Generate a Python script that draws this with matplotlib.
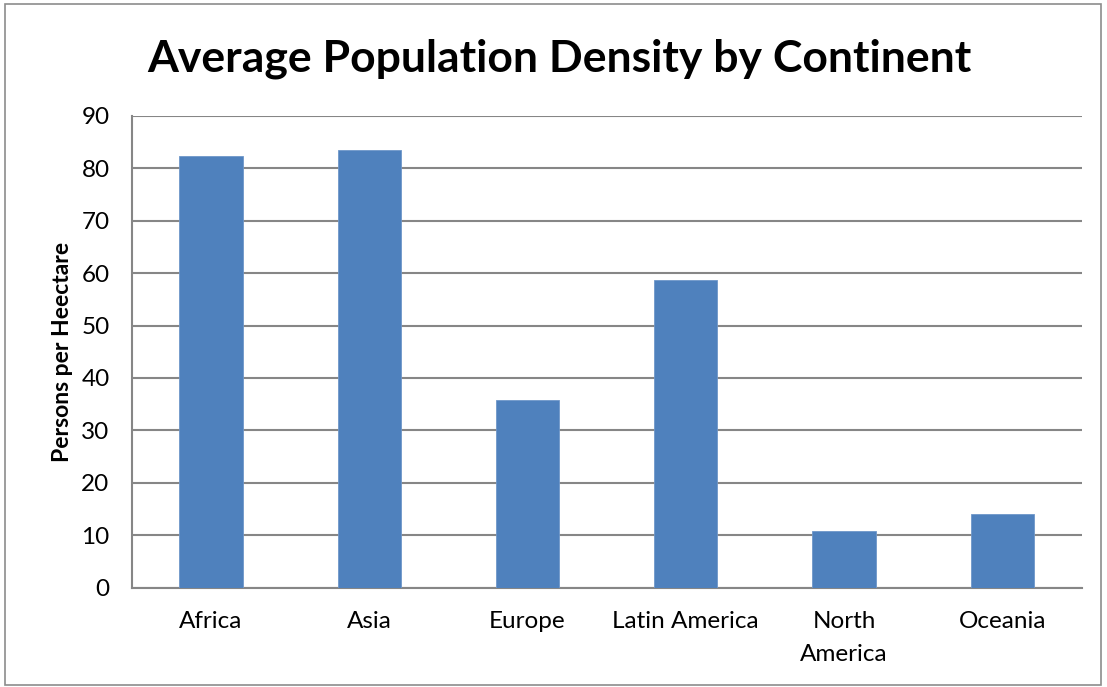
import matplotlib.pyplot as plt
from matplotlib.patches import Rectangle

continents = ["Africa", "Asia", "Europe", "Latin America", "North\nAmerica", "Oceania"]
density = [82.3, 83.4, 35.8, 58.7, 10.8, 14.0]
yticks = [0, 10, 20, 30, 40, 50, 60, 70, 80, 90]

plt.rcParams['font.family'] = ['Lato', 'DejaVu Sans']

fig = plt.figure(figsize=(11.07, 6.87), dpi=100)
ax = fig.add_axes([0.119, 0.1445, 0.858, 0.687])

# outer chart border like the spreadsheet export
fig.patches.append(Rectangle((0.0045, 0.003), 0.990, 0.991, transform=fig.transFigure,
                             fill=False, edgecolor='#8c8c8c', linewidth=1.2))

x = range(len(continents))
ax.bar(x, density, width=0.4, color='#4F81BD', edgecolor='#6f97c9', linewidth=0.6, zorder=3)

ax.set_xlim(-0.5, len(continents) - 0.5)
ax.set_ylim(0, 90)
ax.set_yticks(yticks)
ax.set_xticks(list(x))
ax.set_xticklabels(continents, fontsize=17.5, linespacing=1.7)
ax.tick_params(axis='y', labelsize=17.5, length=0, pad=16)
ax.tick_params(axis='x', length=0, pad=17)

ax.grid(axis='y', color='#868686', linewidth=1.5, zorder=0)
for side in ['top', 'right']:
    ax.spines[side].set_visible(False)
ax.spines['left'].set_color('#868686')
ax.spines['bottom'].set_color('#868686')
ax.spines['left'].set_linewidth(1.5)
ax.spines['bottom'].set_linewidth(1.5)

ax.set_ylabel("Persons per Heectare", fontsize=16.5, fontweight='bold', labelpad=6)
fig.text(0.505, 0.915, "Average Population Density by Continent", ha='center', va='center',
         fontsize=32, fontweight='bold')

plt.savefig("out.png", dpi=100)
